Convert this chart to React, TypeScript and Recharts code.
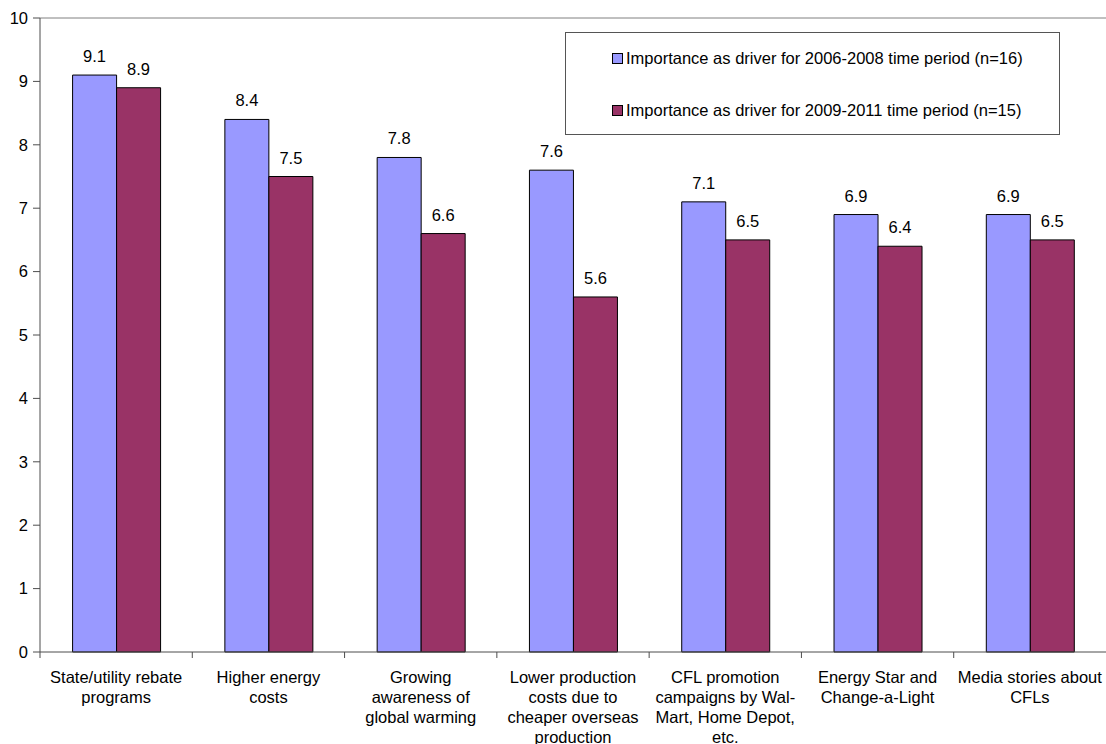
import React from "react";
import { BarChart, Bar, XAxis, YAxis, LabelList, ReferenceLine } from "recharts";

const categories = [
  "State/utility rebate\nprograms",
  "Higher energy\ncosts",
  "Growing\nawareness of\nglobal warming",
  "Lower production\ncosts due to\ncheaper overseas\nproduction",
  "CFL promotion\ncampaigns by Wal-\nMart, Home Depot,\netc.",
  "Energy Star and\nChange-a-Light",
  "Media stories about\nCFLs",
];
const series2006 = [9.1, 8.4, 7.8, 7.6, 7.1, 6.9, 6.9];
const series2009 = [8.9, 7.5, 6.6, 5.6, 6.5, 6.4, 6.5];
const yTicks = [0, 1, 2, 3, 4, 5, 6, 7, 8, 9, 10];
const name2006 = "Importance as driver for 2006-2008 time period (n=16)";
const name2009 = "Importance as driver for 2009-2011 time period (n=15)";

const data = categories.map((c, i) => ({ cat: c, a: series2006[i], b: series2009[i] }));

const W = 1106;
const H = 744;
const LEFT = 40;
const RIGHT = 0;
const PLOT_W = W - LEFT - RIGHT;
const BAND = PLOT_W / categories.length;
const FONT = "'Liberation Sans', Arial, sans-serif";
const FS = 16.5;
const AXIS = "#4d4d4d";

const CatTick = (props: any) => {
  const { x, y, payload } = props;
  const lines = String(payload.value).split("\n");
  const left = x - BAND / 2;
  return (
    <g>
      <line x1={left} y1={y} x2={left} y2={y + 6} stroke={AXIS} strokeWidth={1} />
      <text x={x} y={y + 31} textAnchor="middle" fontFamily={FONT} fontSize={FS} fill="#000">
        {lines.map((l: string, i: number) => (
          <tspan key={i} x={x} dy={i === 0 ? 0 : 20}>
            {l}
          </tspan>
        ))}
      </text>
    </g>
  );
};

const legendItems = [
  { name: name2006, color: "#9999FF", top: 16 },
  { name: name2009, color: "#993366", top: 68 },
];

export default function App() {
  return (
    <div style={{ position: "absolute", left: 0, top: 0, width: W, height: H, background: "#fff" }}>
      <BarChart
        width={W}
        height={H}
        data={data}
        margin={{ top: 18, right: RIGHT, left: 0, bottom: 0 }}
        barCategoryGap="21.4%"
        barGap={0}
      >
        <XAxis
          dataKey="cat"
          interval={0}
          height={92}
          tickLine={false}
          tickSize={0}
          tickMargin={0}
          axisLine={{ stroke: AXIS }}
          tick={<CatTick />}
        />
        <YAxis
          width={LEFT}
          domain={[0, 10]}
          ticks={yTicks}
          interval={0}
          tickSize={7}
          tickMargin={5}
          axisLine={{ stroke: AXIS }}
          tickLine={{ stroke: AXIS }}
          tick={{ fontFamily: FONT, fontSize: FS, fill: "#000" }}
        />
        <ReferenceLine y={10} stroke="#808080" strokeWidth={1} ifOverflow="visible" />
        <Bar dataKey="a" name={name2006} fill="#9999FF" stroke="#000" strokeWidth={1} isAnimationActive={false}>
          <LabelList dataKey="a" position="top" offset={13} style={{ fontFamily: FONT, fontSize: FS, fill: "#000" }} formatter={(v: any) => Number(v).toFixed(1)} />
        </Bar>
        <Bar dataKey="b" name={name2009} fill="#993366" stroke="#000" strokeWidth={1} isAnimationActive={false}>
          <LabelList dataKey="b" position="top" offset={13} style={{ fontFamily: FONT, fontSize: FS, fill: "#000" }} formatter={(v: any) => Number(v).toFixed(1)} />
        </Bar>
      </BarChart>
      <div
        style={{
          position: "absolute",
          left: 565,
          top: 32,
          width: 493,
          height: 101,
          border: "1px solid #555",
          background: "#fff",
          fontFamily: FONT,
          fontSize: FS,
          color: "#000",
        }}
      >
        {legendItems.map((it) => (
          <div key={it.name} style={{ position: "absolute", left: 46, top: it.top, display: "flex", alignItems: "center", whiteSpace: "nowrap" }}>
            <span style={{ display: "inline-block", width: 9, height: 9, background: it.color, border: "1px solid #000", marginRight: 3 }} />
            <span>{it.name}</span>
          </div>
        ))}
      </div>
    </div>
  );
}
